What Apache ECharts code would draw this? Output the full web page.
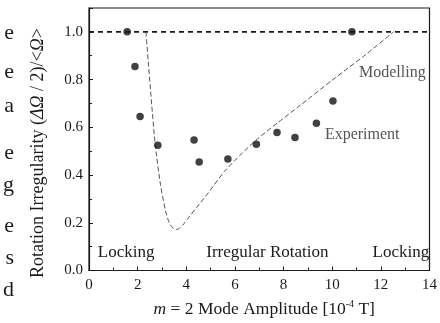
<!DOCTYPE html>
<html>
<head>
<meta charset="utf-8">
<script src="https://cdn.jsdelivr.net/npm/echarts@6/dist/echarts.min.js"></script>
<style>html,body{margin:0;padding:0;background:#fff;}#c{width:440px;height:323px;}</style>
</head>
<body>
<div id="c"></div>
<script>
// Experiment points: m=2 mode amplitude [1e-4 T] vs rotation irregularity
const expX = [1.57, 1.89, 2.10, 2.83, 4.32, 4.53, 5.71, 6.88, 7.73, 8.47, 9.35, 10.03, 10.81];
const expY = [1.00, 0.855, 0.645, 0.525, 0.547, 0.455, 0.467, 0.529, 0.578, 0.557, 0.617, 0.71, 1.00];
// Modelling curve
const modX = [2.34, 2.71, 2.94, 3.15, 3.30, 3.45, 3.62, 3.85, 4.09, 4.47, 4.90, 5.57, 6.25, 6.92, 7.73, 8.68, 10.03, 11.38, 12.52];
const modY = [1.00, 0.54, 0.36, 0.249, 0.200, 0.178, 0.172, 0.190, 0.221, 0.270, 0.325, 0.415, 0.487, 0.551, 0.617, 0.692, 0.80, 0.905, 1.00];
// Locking threshold level
const lockLevel = 1.0;
// Tick values
const xTicks = [0, 2, 4, 6, 8, 10, 12, 14];
const yTicks = [0.0, 0.2, 0.4, 0.6, 0.8, 1.0];
// Annotation texts (in data coordinates)
const annText = ['Locking', 'Irregular Rotation', 'Locking', 'Modelling', 'Experiment'];
const annX = [0.36, 4.82, 11.66, 11.1, 9.7];
const annY = [0.075, 0.075, 0.075, 0.83, 0.567];
// Fragment of surrounding page text at left edge
const sideText = ['e', 'e', 'a', 'e', 'g', 'e', 's', 'd'];
const sideY = [33, 72, 106, 153, 185, 226, 258, 290];

const serif = '"Liberation Serif", "DejaVu Serif", serif';
const ink = '#1a1a1a';

const chart = echarts.init(document.getElementById('c'), null, {renderer: 'canvas'});
const option = {
  animation: false,
  backgroundColor: '#fff',
  grid: {left: 89, right: 5, top: 8, bottom: 50, show: true, borderColor: ink, borderWidth: 1.2, backgroundColor: 'transparent'},
  xAxis: {
    type: 'value', min: xTicks[0], max: xTicks[xTicks.length - 1], interval: 2,
    axisLine: {show: true, lineStyle: {color: ink, width: 1.2}},
    axisTick: {show: true, inside: true, length: 4, lineStyle: {color: ink}},
    minorTick: {show: true, splitNumber: 2, length: 3, lineStyle: {color: ink}},
    splitLine: {show: false},
    axisLabel: {color: ink, fontFamily: serif, fontSize: 15, margin: 7},
    name: '{i|m} = 2 Mode Amplitude [10{sup|-4} T]',
    nameLocation: 'middle', nameGap: 29,
    nameTextStyle: {color: ink, fontFamily: serif, fontSize: 17.5, padding: [0, 0, 0, 10],
      rich: {i: {fontStyle: 'italic', fontFamily: serif, fontSize: 17.5, color: ink},
             sup: {fontFamily: serif, fontSize: 10, color: ink, padding: [0, 0, 9, 0]}}}
  },
  yAxis: {
    type: 'value', min: 0, max: 1.1, interval: 0.2,
    axisLine: {show: true, lineStyle: {color: ink, width: 1.2}},
    axisTick: {show: true, inside: true, length: 4, lineStyle: {color: ink}},
    minorTick: {show: true, splitNumber: 2, length: 3, lineStyle: {color: ink}},
    splitLine: {show: false},
    axisLabel: {color: ink, fontFamily: serif, fontSize: 15, margin: 6, showMaxLabel: false,
      formatter: v => (yTicks.some(t => Math.abs(t - v) < 1e-6) ? v.toFixed(1) : '')}
  },
  series: [
    {
      type: 'line', name: 'Lock', data: [[xTicks[0], lockLevel], [xTicks[xTicks.length - 1], lockLevel]],
      symbol: 'none', lineStyle: {color: ink, width: 1.8, type: [5, 4]}, z: 2
    },
    {
      type: 'line', name: 'Modelling', data: modX.map((x, i) => [x, modY[i]]),
      symbol: 'none', smooth: 0.25, smoothMonotone: 'none', lineStyle: {color: '#555', width: 1, type: [5, 2.5]}, z: 3
    },
    {
      type: 'scatter', name: 'Experiment', data: expX.map((x, i) => [x, expY[i]]),
      symbol: 'circle', symbolSize: 7.5, itemStyle: {color: '#111'}, z: 5
    }
  ]
};
chart.setOption(option);

const g = [];
annText.forEach((t, i) => {
  const p = chart.convertToPixel({gridIndex: 0}, [annX[i], annY[i]]);
  const faded = i >= 3;
  g.push({type: 'text', x: p[0], y: p[1],
    style: {text: t, fontFamily: serif, fontSize: faded ? 16 : 17, fill: faded ? '#555' : ink,
      textAlign: 'left', textVerticalAlign: 'middle'}});
});
sideText.forEach((t, i) => {
  g.push({type: 'text', x: 14, y: sideY[i],
    style: {text: t, fontFamily: serif, fontSize: 22, fill: ink, textAlign: 'right', textVerticalAlign: 'middle'}});
});
g.push({type: 'text', x: 38, y: 153, rotation: Math.PI / 2,
  style: {text: 'Rotation Irregularity ({i|ΔΩ} / 2)/<{i|Ω}>', fontFamily: serif, fontSize: 18, fill: ink,
    textAlign: 'center', textVerticalAlign: 'middle',
    rich: {i: {fontStyle: 'italic', fontFamily: serif, fontSize: 18, fill: ink}}}});
chart.setOption({graphic: g});
</script>
</body>
</html>
